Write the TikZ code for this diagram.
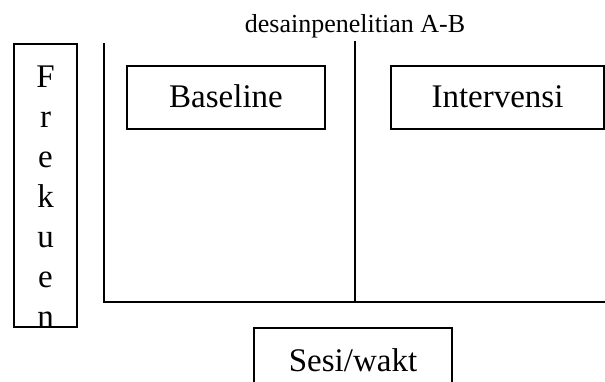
\documentclass[tikz,border=0pt]{standalone}
\usepackage{fontspec}
\setmainfont{Liberation Serif}
\tikzset{
  boxline/.style={line width=1.5pt},
  labelbox/.style={draw, boxline, inner sep=0pt, text height=41pt, text depth=22pt,
    anchor=base, font=\fontsize{33}{40}\selectfont},
  letter/.style={anchor=base, font=\fontsize{33}{40}\selectfont}
}
\begin{document}
\begin{tikzpicture}[x=1pt,y=-1pt]
\useasboundingbox (0,0) rectangle (605,381);
\clip (0,0) rectangle (605,381);
\node[anchor=base, font=\fontsize{26}{30}\selectfont] (title) at (355,32) {desainpenelitian A-B};
\coordinate (ytop) at (104,43);
\coordinate (origin) at (104,302);
\coordinate (xend) at (606,302);
\coordinate (midtop) at (355,41);
\coordinate (midbot) at (355,302);
\draw[boxline] (ytop) -- (origin) -- (xend);
\draw[boxline] (midtop) -- (midbot);
\node[draw, boxline, minimum width=63pt, minimum height=283pt, inner sep=0pt] (frek) at (45.5,185.5) {};
\begin{scope}
\clip (frek.south west) rectangle (frek.north east);
\foreach \ch/\yy in {F/87,r/127,e/167,k/207,u/247,e/287,n/327}
  \node[letter] (frek-\yy) at (45.5,\yy) {\ch};
\end{scope}
\node[labelbox, minimum width=198pt] (baseline) at (226,107) {Baseline};
\node[labelbox, minimum width=213pt] (intervensi) at (497.5,107) {Intervensi};
\node[labelbox, minimum width=198pt, text height=43pt, text depth=40pt] (sesi) at (353,371) {Sesi/wakt};
\end{tikzpicture}
\end{document}
